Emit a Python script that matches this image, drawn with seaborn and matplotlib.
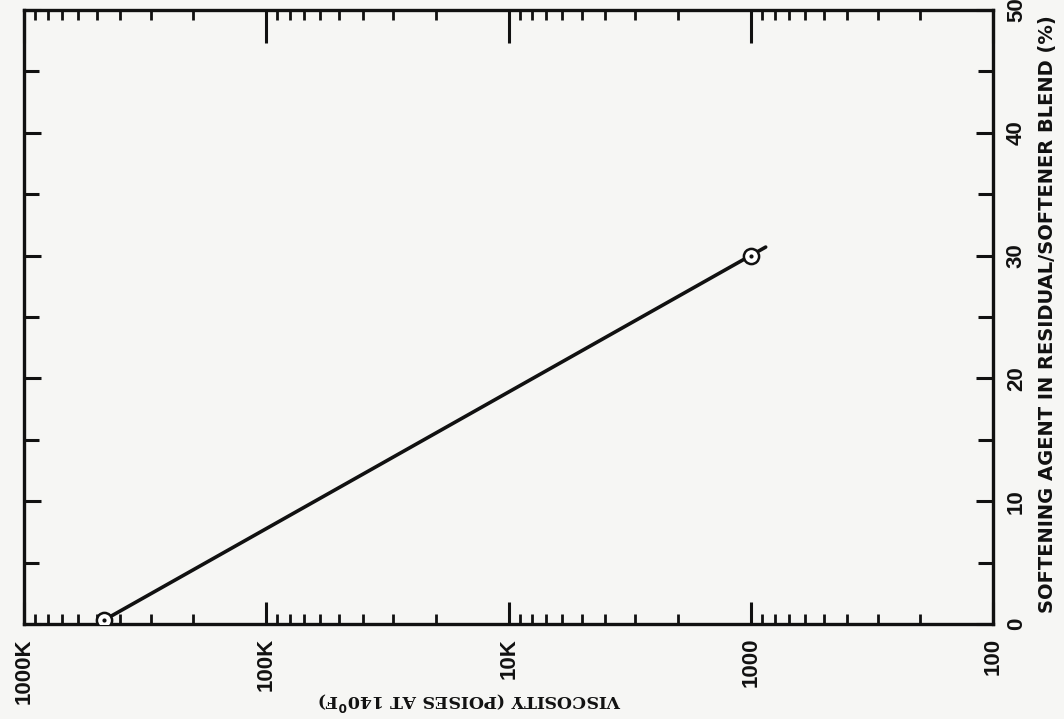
import numpy as np
import pandas as pd
import matplotlib
matplotlib.use('Agg')
import matplotlib.pyplot as plt
import matplotlib.ticker as mticker
import seaborn as sns

# measured points (viscosity in poises, softener %)
visc_pts = [470000, 1000]
pct_pts = [0.3, 30]
# drawn line runs a bit past the upper point
visc_line = [470000, 870]
pct_line = [0.3, 30.7]

xticks = [1e6, 1e5, 1e4, 1e3, 1e2]
xtick_labels = ['1000K', '100K', '10K', '1000', '100']
yticks = [0, 10, 20, 30, 40, 50]

sns.set_style('ticks')
plt.rcParams['font.family'] = ['Liberation Sans', 'DejaVu Sans']
plt.rcParams['font.weight'] = 'bold'

bg = '#f6f6f4'
ink = '#111111'

fig = plt.figure(figsize=(10.64, 7.19), dpi=100, facecolor=bg)
ax = fig.add_axes([0.0226, 0.132, 0.911, 0.854])
ax.set_facecolor(bg)

line_df = pd.DataFrame({'visc': visc_line, 'pct': pct_line})
pts_df = pd.DataFrame({'visc': visc_pts, 'pct': pct_pts})

sns.lineplot(data=line_df, x='visc', y='pct', ax=ax, color=ink, lw=2.6,
             sort=False, zorder=3)
sns.scatterplot(data=pts_df, x='visc', y='pct', ax=ax, s=120, marker='o',
                facecolor='white', edgecolor=ink, linewidth=1.8, zorder=4)
sns.scatterplot(data=pts_df, x='visc', y='pct', ax=ax, s=9, marker='o',
                color=ink, edgecolor=ink, linewidth=0, zorder=5)

ax.set_xscale('log')
ax.set_xlim(1e6, 100)
ax.set_ylim(0, 50)

ax.xaxis.set_major_locator(mticker.FixedLocator(xticks))
ax.xaxis.set_major_formatter(mticker.FixedFormatter(xtick_labels))
ax.xaxis.set_minor_locator(mticker.LogLocator(base=10, subs=np.arange(2, 10)))
ax.xaxis.set_minor_formatter(mticker.NullFormatter())

ax.yaxis.set_major_locator(mticker.FixedLocator(yticks))
ax.yaxis.set_minor_locator(mticker.MultipleLocator(5))
ax.yaxis.tick_right()

ax.tick_params(axis='x', which='major', direction='in', top=True, bottom=True,
               length=18, width=2.2, color=ink, labelsize=16,
               labelrotation=90, pad=10, labelcolor=ink)
ax.tick_params(axis='x', which='minor', direction='in', top=True, bottom=True,
               length=7, width=2.0, color=ink)
ax.tick_params(axis='y', which='major', direction='in', left=True, right=True,
               labelleft=False, labelright=True, length=12, width=2.2,
               color=ink, labelsize=16, labelrotation=90, pad=9,
               labelcolor=ink)
ax.tick_params(axis='y', which='minor', direction='in', left=True, right=True,
               length=11, width=2.2, color=ink)
for lab in ax.get_yticklabels():
    lab.set_va('center')

# top decade ticks are longer than the bottom ones
for t in ax.xaxis.get_major_ticks():
    t.tick2line.set_markersize(24)
    t.tick1line.set_markersize(16)

for sp in ax.spines.values():
    sp.set_visible(True)
    sp.set_linewidth(2.4)
    sp.set_color(ink)

ax.set_xlabel('')
ax.set_ylabel('')

fig.text(470 / 1064, 1 - 701 / 719, 'VISCOSITY (POISES AT 140$^{0}$F)',
         rotation=180, ha='center', va='center', fontsize=12.5,
         family=['DejaVu Serif'], weight='bold', color=ink)
fig.text(1048 / 1064, 1 - 613 / 719,
         'SOFTENING AGENT IN RESIDUAL/SOFTENER BLEND (%)',
         rotation=90, ha='center', va='bottom', fontsize=14, weight='bold',
         family=['DejaVu Sans'], color=ink)

fig.savefig('out.png', dpi=100, facecolor=bg)
